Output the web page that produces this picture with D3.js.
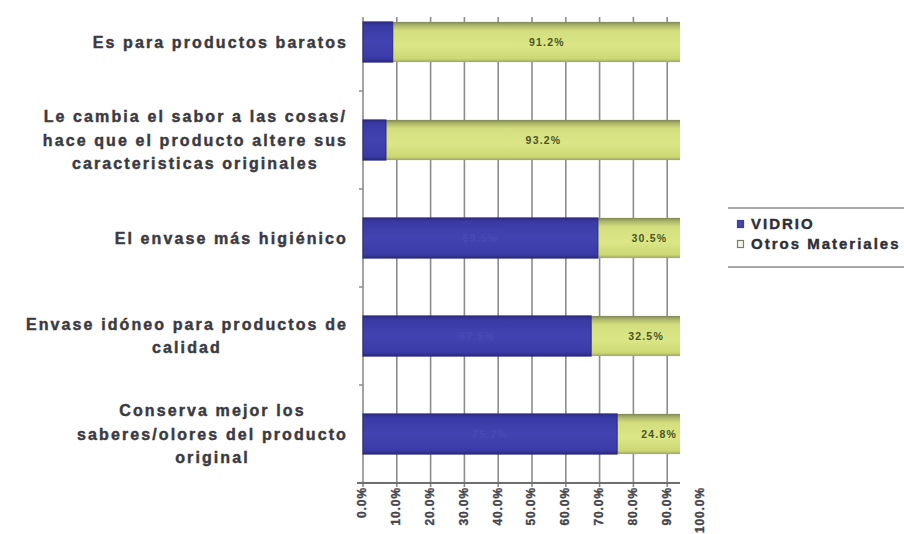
<!DOCTYPE html>
<html>
<head>
<meta charset="utf-8">
<script src="https://cdn.jsdelivr.net/npm/d3@7/dist/d3.min.js"></script>
<style>
  html, body { margin: 0; padding: 0; background: #ffffff; }
  svg { display: block; }
  text { font-family: "Liberation Sans", Arial, sans-serif; font-weight: bold; }
</style>
</head>
<body>
<svg id="chart" width="904" height="534"></svg>
<script>
// Category labels (each entry is the list of wrapped lines)
const categories = [
  ["Es para productos baratos"],
  ["Le cambia el sabor a las cosas/", "hace que el producto altere sus", "caracteristicas originales"],
  ["El envase más higiénico"],
  ["Envase idóneo para productos de", "calidad"],
  ["Conserva mejor los", "saberes/olores del producto", "original"]
];
const categoryKeys = categories.map(c => c.join(" "));

// Series values (%)
const seriesNames = ["VIDRIO", "Otros Materiales"];
const vidrio = [8.8, 6.8, 69.5, 67.5, 75.2];
const otros  = [91.2, 93.2, 30.5, 32.5, 24.8];

// Axis ticks (%)
const tickValues = [0, 10, 20, 30, 40, 50, 60, 70, 80, 90, 100];

const svg = d3.select("#chart");

const plot = { left: 363, right: 701, clipRight: 680, top: 17, bottom: 483, bandTop: -7 };

const x = d3.scaleLinear().domain([0, 100]).range([plot.left, plot.right]);
const y = d3.scaleBand().domain(categoryKeys)
  .range([plot.bandTop, plot.bottom])
  .paddingInner(0.59).paddingOuter(0.295);

const defs = svg.append("defs");
defs.append("clipPath").attr("id", "plotClip")
  .append("rect")
  .attr("x", plot.left - 8).attr("y", plot.top - 3)
  .attr("width", plot.clipRight - plot.left + 8).attr("height", plot.bottom - plot.top + 10);

const gGreen = defs.append("linearGradient").attr("id", "gGreen")
  .attr("x1", 0).attr("y1", 0).attr("x2", 0).attr("y2", 1);
[[0, "#7f8656"], [0.08, "#aab46a"], [0.22, "#d3df7e"], [0.6, "#dbe687"], [0.92, "#cbd872"], [1, "#9ea26a"]]
  .forEach(([o, c]) => gGreen.append("stop").attr("offset", o).attr("stop-color", c));

const gBlue = defs.append("linearGradient").attr("id", "gBlue")
  .attr("x1", 0).attr("y1", 0).attr("x2", 0).attr("y2", 1);
[[0, "#2c2c86"], [0.1, "#3a3aa6"], [0.5, "#4242b2"], [0.9, "#3b3ba8"], [1, "#2a2a80"]]
  .forEach(([o, c]) => gBlue.append("stop").attr("offset", o).attr("stop-color", c));

const clipped = svg.append("g").attr("clip-path", "url(#plotClip)");

// Vertical gridlines (with small tick extending below the axis)
clipped.append("g").selectAll("line").data(tickValues).join("line")
  .attr("x1", d => x(d)).attr("x2", d => x(d))
  .attr("y1", plot.top).attr("y2", plot.bottom + 4)
  .attr("stroke", "#8c8c8c").attr("stroke-width", 1.6);

// Bottom axis line
clipped.append("line")
  .attr("x1", plot.left - 6).attr("x2", plot.clipRight)
  .attr("y1", plot.bottom).attr("y2", plot.bottom)
  .attr("stroke", "#6e6e6e").attr("stroke-width", 1.8);

// Left axis ticks at category boundaries
const gap = y.step() - y.bandwidth();
svg.append("g").selectAll("line").data(categoryKeys.slice(1)).join("line")
  .attr("x1", plot.left - 4).attr("x2", plot.left)
  .attr("y1", d => y(d) - gap / 2).attr("y2", d => y(d) - gap / 2)
  .attr("stroke", "#8c8c8c").attr("stroke-width", 1.5);

// Stacked bars
const rows = categoryKeys.map((k, i) => ({ key: k, v: vidrio[i], o: otros[i] }));

clipped.append("g").selectAll("rect").data(rows).join("rect")
  .attr("x", d => x(d.v)).attr("y", d => y(d.key))
  .attr("width", d => x(d.v + d.o) - x(d.v)).attr("height", y.bandwidth())
  .attr("fill", "url(#gGreen)");

clipped.append("g").selectAll("rect").data(rows).join("rect")
  .attr("x", x(0)).attr("y", d => y(d.key))
  .attr("width", d => x(d.v) - x(0)).attr("height", y.bandwidth())
  .attr("fill", "url(#gBlue)")
  .attr("stroke", "#2a2a7e").attr("stroke-width", 1);

// Value labels
clipped.append("g").selectAll("text").data(rows).join("text")
  .attr("x", d => (x(d.v) + x(d.v + d.o)) / 2)
  .attr("y", d => y(d.key) + y.bandwidth() / 2)
  .attr("dy", "0.35em").attr("text-anchor", "middle")
  .attr("font-size", 10.5).attr("letter-spacing", 1.2)
  .attr("fill", "#4c5526")
  .text(d => d.o.toFixed(1) + "%");

clipped.append("g").selectAll("text").data(rows.filter(d => x(d.v) - x(0) > 45)).join("text")
  .attr("x", d => (x(0) + x(d.v)) / 2)
  .attr("y", d => y(d.key) + y.bandwidth() / 2)
  .attr("dy", "0.35em").attr("text-anchor", "middle")
  .attr("font-size", 10.5).attr("letter-spacing", 1.2)
  .attr("fill", "#4949b6")
  .text(d => d.v.toFixed(1) + "%");

// X tick labels (rotated)
svg.append("g").selectAll("text").data(tickValues).join("text")
  .attr("transform", d => `translate(${x(d) - 1},${plot.bottom + 4}) rotate(-90)`)
  .attr("text-anchor", "end").attr("dy", "0.36em")
  .attr("font-size", 12).attr("letter-spacing", 0.9)
  .attr("fill", "#44444c").attr("stroke", "#44444c").attr("stroke-width", 0.35)
  .text(d => d.toFixed(1) + "%");

// Category labels: block right-aligned, lines centred within the block
const labelRight = 348, lineH = 23.3;
const catG = svg.append("g").selectAll("text").data(categories).join("text")
  .attr("font-size", 16).attr("letter-spacing", 2.1)
  .attr("fill", "#3a3a42").attr("stroke", "#3a3a42").attr("stroke-width", 0.45)
  .attr("text-anchor", "middle");
catG.each(function(lines, i) {
  const t = d3.select(this);
  const cy = y(categoryKeys[i]) + y.bandwidth() / 2;
  lines.forEach((ln, j) => {
    t.append("tspan").text(ln)
      .attr("y", cy + (j - (lines.length - 1) / 2) * lineH)
      .attr("dy", "0.36em");
  });
  let w = 0;
  t.selectAll("tspan").each(function() { w = Math.max(w, this.getComputedTextLength()); });
  t.selectAll("tspan").attr("x", labelRight - w / 2);
});

// Legend
const legend = svg.append("g");
legend.append("line").attr("x1", 728).attr("x2", 904).attr("y1", 208).attr("y2", 208)
  .attr("stroke", "#a8a8a8").attr("stroke-width", 2);
legend.append("line").attr("x1", 728).attr("x2", 904).attr("y1", 267).attr("y2", 267)
  .attr("stroke", "#a8a8a8").attr("stroke-width", 2);
const legendY = d3.scalePoint().domain(seriesNames).range([224, 244]);
const legendFill = { "VIDRIO": "#4646b0", "Otros Materiales": "#f4f6ea" };
const legendStroke = { "VIDRIO": "#3a3aa0", "Otros Materiales": "#7c8066" };
const items = legend.selectAll("g.item").data(seriesNames).join("g").attr("class", "item")
  .attr("transform", d => `translate(737,${legendY(d)})`);
items.append("rect").attr("x", 0.5).attr("y", -3.5).attr("width", 6).attr("height", 7)
  .attr("fill", d => legendFill[d]).attr("stroke", d => legendStroke[d]).attr("stroke-width", 1.2);
items.append("text").attr("x", 14).attr("dy", "0.36em")
  .attr("font-size", 15).attr("letter-spacing", 2)
  .attr("fill", "#2e2e36").attr("stroke", "#2e2e36").attr("stroke-width", 0.4)
  .text(d => d);
</script>
</body>
</html>
